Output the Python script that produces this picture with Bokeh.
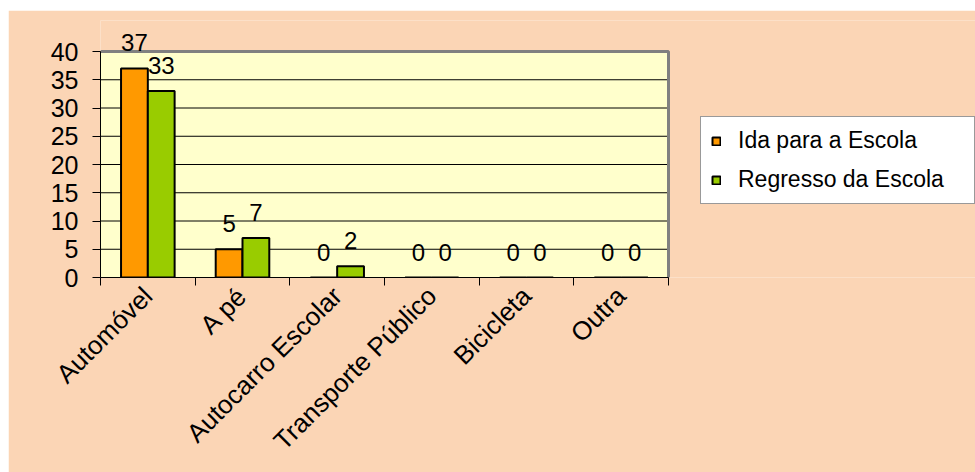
import math
from bokeh.plotting import figure
from bokeh.models import (ColumnDataSource, Range1d, FixedTicker, LabelSet,
                          Legend, LegendItem)
from bokeh.core.properties import value
from bokeh.embed import file_html
from bokeh.resources import INLINE

categories = ["Automóvel", "A pé", "Autocarro Escolar", "Transporte Público", "Bicicleta", "Outra"]
ida = [37, 5, 0, 0, 0, 0]
regresso = [33, 7, 2, 0, 0, 0]
series_names = ["Ida para a Escola", "Regresso da Escola"]
y_ticks = [0, 5, 10, 15, 20, 25, 30, 35, 40]

FONT = "Liberation Sans"
PEACH = "#FBD5B5"
PLOTBG = "#FFFFCC"
ORANGE = "#FF9900"
GREEN = "#99CC00"

n = len(categories)
ymax = max(y_ticks)
centers = [i + 0.5 for i in range(n)]
off = 0.1415
bw = 0.283

# frame geometry (pixels) -- the plot area is 568 x 226 px, the frame is larger
cat_px = 568 / n
frame_w = 875
frame_h = 257
x_end = frame_w / cat_px
y_end = frame_h * ymax / 226

src_ida = ColumnDataSource(dict(x=[c - off for c in centers], y=ida, t=[str(v) for v in ida]))
src_reg = ColumnDataSource(dict(x=[c + off for c in centers], y=regresso, t=[str(v) for v in regresso]))

p = figure(width=967, height=462, output_backend="svg", toolbar_location=None,
           x_range=Range1d(0, x_end), y_range=Range1d(0, y_end),
           min_border_left=92, min_border_top=10, min_border_right=0, min_border_bottom=195)
p.margin = (10, 0, 0, 8)
p.border_fill_color = PEACH
p.background_fill_color = PEACH
p.outline_line_color = None

# plot area
p.quad(left=[0], right=[n], bottom=[0], top=[ymax], fill_color=PLOTBG, line_color=None)
# grid lines
p.segment(x0=[0] * len(y_ticks), x1=[n] * len(y_ticks), y0=y_ticks, y1=y_ticks,
          line_color="black", line_width=1)
# plot-area border (top & right)
p.line(x=[0, n, n], y=[ymax, ymax, 0], line_color="#808080", line_width=3)

r1 = p.vbar(x="x", top="y", width=bw, source=src_ida, fill_color=ORANGE, line_color="black", line_width=2)
r2 = p.vbar(x="x", top="y", width=bw, source=src_reg, fill_color=GREEN, line_color="black", line_width=2)

for src in (src_ida, src_reg):
    p.add_layout(LabelSet(x="x", y="y", text="t", source=src, y_offset=17,
                          text_align="center", text_baseline="alphabetic",
                          text_font=value(FONT), text_font_size=value("24px"),
                          text_color="black"))

# x axis
xa = p.xaxis[0]
xa.bounds = (0, n)
xa.ticker = FixedTicker(ticks=centers, minor_ticks=list(range(n + 1)))
xa.major_label_overrides = {c: name for c, name in zip(centers, categories)}
xa.major_label_orientation = math.pi / 4
xa.major_tick_line_color = None
xa.major_tick_out = 8
xa.major_tick_in = 0
xa.minor_tick_line_color = "black"
xa.minor_tick_out = 8
xa.minor_tick_in = 0
xa.axis_line_color = "black"
xa.major_label_text_font = FONT
xa.major_label_text_font_size = "26px"
xa.major_label_text_color = "black"
xa.major_label_standoff = 6

ya = p.yaxis[0]
ya.bounds = (0, ymax)
ya.ticker = FixedTicker(ticks=y_ticks)
ya.minor_tick_line_color = None
ya.major_tick_out = 8
ya.major_tick_in = 0
ya.major_tick_line_color = "black"
ya.axis_line_color = "black"
ya.major_label_text_font = FONT
ya.major_label_text_font_size = "25px"
ya.major_label_text_color = "black"
ya.major_label_standoff = 14

p.xgrid.grid_line_color = None
p.ygrid.grid_line_color = None

legend = Legend(items=[LegendItem(label=series_names[0], renderers=[r1]),
                       LegendItem(label=series_names[1], renderers=[r2])],
                location=(600, 73))
legend.background_fill_color = "white"
legend.background_fill_alpha = 1
legend.border_line_color = "#333333"
legend.border_line_width = 1.5
legend.padding = 10
legend.margin = 0
legend.spacing = 12
legend.label_height = 22
legend.glyph_height = 10
legend.glyph_width = 10
legend.label_standoff = 17
legend.label_width = 226
legend.label_text_font = FONT
legend.label_text_font_size = "23px"
legend.label_text_color = "black"
p.add_layout(legend, "center")

open("out.html", "w").write(file_html(p, INLINE))
